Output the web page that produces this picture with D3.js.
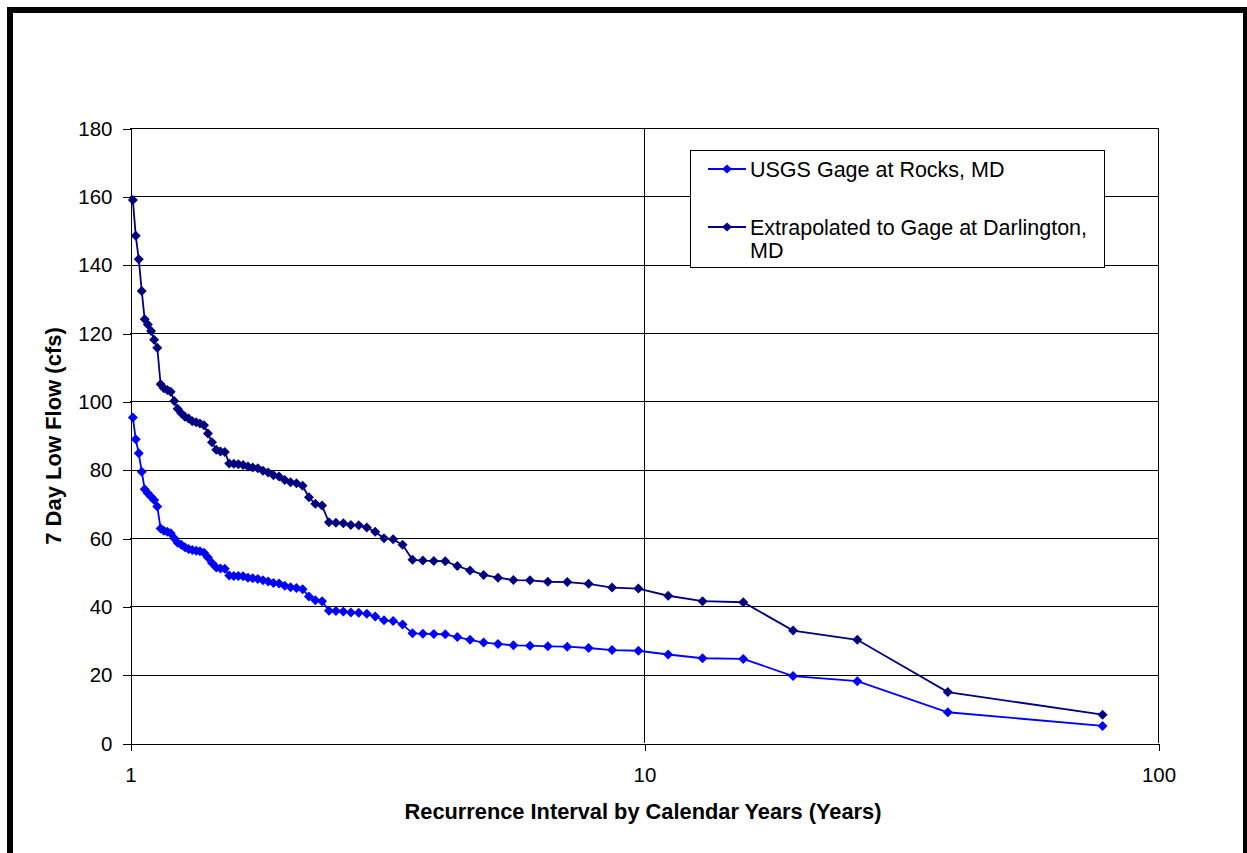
<!DOCTYPE html>
<html>
<head>
<meta charset="utf-8">
<script src="https://cdn.jsdelivr.net/npm/d3@7"></script>
<style>
  html, body { margin: 0; padding: 0; background: #fff; }
  svg { display: block; font-family: "Liberation Sans", Arial, sans-serif; }
</style>
</head>
<body>
<svg id="chart" width="1247" height="853"></svg>
<script>
// Recurrence interval (years) for each ranked 7-day low flow, smallest first
const recurrenceYears = [
  1.013, 1.026, 1.04, 1.054, 1.068, 1.083, 1.099, 1.114, 1.13, 1.147,
  1.164, 1.182, 1.2, 1.219, 1.238, 1.258, 1.279, 1.3, 1.322, 1.345,
  1.368, 1.393, 1.418, 1.444, 1.472, 1.5, 1.529, 1.56, 1.592, 1.625,
  1.66, 1.696, 1.733, 1.773, 1.814, 1.857, 1.902, 1.95, 2, 2.053,
  2.108, 2.167, 2.229, 2.294, 2.364, 2.438, 2.516, 2.6, 2.69, 2.786,
  2.889, 3, 3.12, 3.25, 3.391, 3.545, 3.714, 3.9, 4.105, 4.333,
  4.588, 4.875, 5.2, 5.571, 6, 6.5, 7.091, 7.8, 8.667, 9.75,
  11.143, 13, 15.6, 19.5, 26, 39, 78
];

// 7-day low flow (cfs), USGS gage at Rocks, MD
const rocksFlow = [
  95.3, 88.9, 84.8, 79.4, 74.3, 73.1, 72.1, 71.1, 69.2, 62.8,
  62.1, 61.8, 61.4, 59.9, 58.6, 58.0, 57.3, 56.8, 56.5, 56.3,
  56.1, 55.7, 54.3, 52.7, 51.4, 51.1, 51.0, 49.0, 48.9, 48.9,
  48.8, 48.4, 48.2, 48.0, 47.6, 47.3, 46.8, 46.7, 46.0, 45.6,
  45.4, 45.0, 42.9, 41.8, 41.5, 38.7, 38.6, 38.5, 38.2, 38.1,
  37.8, 37.0, 35.9, 35.7, 34.7, 32.1, 32.0, 31.9, 31.8, 31.0,
  30.2, 29.4, 29.0, 28.6, 28.5, 28.3, 28.2, 27.8, 27.2, 27.0,
  25.9, 24.8, 24.6, 19.6, 18.1, 9.0, 5.0
];

// 7-day low flow (cfs), extrapolated to the gage at Darlington, MD
const darlingtonFlow = [
  158.9, 148.5, 141.6, 132.3, 124.0, 122.5, 120.6, 118.0, 115.7, 105.0,
  103.8, 103.3, 102.8, 100.1, 97.8, 96.5, 95.5, 95.0, 94.2, 93.9,
  93.5, 93.0, 90.6, 88.0, 85.8, 85.3, 85.2, 81.8, 81.7, 81.6,
  81.4, 80.9, 80.6, 80.4, 79.7, 79.2, 78.4, 78.0, 77.0, 76.3,
  76.0, 75.3, 71.9, 70.0, 69.5, 64.6, 64.5, 64.3, 63.8, 63.7,
  63.1, 61.8, 59.9, 59.6, 58.0, 53.6, 53.4, 53.3, 53.2, 51.8,
  50.5, 49.2, 48.4, 47.7, 47.6, 47.2, 47.1, 46.6, 45.5, 45.2,
  43.1, 41.5, 41.2, 32.9, 30.2, 14.9, 8.3
];

const seriesNames = ["USGS Gage at Rocks, MD", "Extrapolated to Gage at Darlington,\nMD"];
const seriesColors = ["#0000ff", "#000080"];
const yTicks = [0, 20, 40, 60, 80, 100, 120, 140, 160, 180];
const xTicks = [1, 10, 100];

const svg = d3.select("#chart");

const plot = { left: 130, right: 1158, top: 128, bottom: 743 };
const x = d3.scaleLog().domain([1, 100]).range([plot.left, plot.right]);
const y = d3.scaleLinear().domain([0, 180]).range([plot.bottom, plot.top]);

// outer frame
svg.append("rect")
  .attr("x", 10).attr("y", 10)
  .attr("width", 1236).attr("height", 870)
  .attr("fill", "#fff").attr("stroke", "#000").attr("stroke-width", 6);

// gridlines
const grid = svg.append("g").attr("shape-rendering", "crispEdges");
grid.selectAll("line.h").data(yTicks.filter(d => d > 0)).join("line")
  .attr("x1", plot.left).attr("x2", plot.right)
  .attr("y1", d => Math.round(y(d)) + 0.5).attr("y2", d => Math.round(y(d)) + 0.5)
  .attr("stroke", "#000").attr("stroke-width", 1);
grid.selectAll("line.v").data(xTicks.filter(d => d > 1)).join("line")
  .attr("y1", plot.top).attr("y2", plot.bottom)
  .attr("x1", d => Math.round(x(d)) + 0.5).attr("x2", d => Math.round(x(d)) + 0.5)
  .attr("stroke", "#000").attr("stroke-width", 1);

// axes
const yAxis = svg.append("g")
  .attr("transform", `translate(${plot.left + 0.5},0.5)`)
  .attr("shape-rendering", "crispEdges")
  .call(d3.axisLeft(y).tickValues(yTicks).tickSize(8).tickPadding(10).tickSizeOuter(0));
const xAxis = svg.append("g")
  .attr("transform", `translate(0.5,${plot.bottom + 0.5})`)
  .attr("shape-rendering", "crispEdges")
  .call(d3.axisBottom(x).tickValues(xTicks).tickFormat(d3.format("d")).tickSize(7).tickPadding(17).tickSizeOuter(0));
[yAxis, xAxis].forEach(g => {
  g.selectAll("path, line").attr("stroke", "#000");
  g.selectAll("text").attr("font-size", 20.5).attr("fill", "#000")
    .attr("font-family", "'Liberation Sans', Arial, sans-serif");
});

// axis titles
svg.append("text")
  .attr("transform", "translate(61,436) rotate(-90)")
  .attr("text-anchor", "middle")
  .attr("font-size", 22).attr("font-weight", "bold")
  .text("7 Day Low Flow (cfs)");
svg.append("text")
  .attr("x", 643).attr("y", 819)
  .attr("text-anchor", "middle")
  .attr("font-size", 21.8).attr("font-weight", "bold")
  .text("Recurrence Interval by Calendar Years (Years)");

// diamond marker
const diamondPath = "M0,-5L5,0L0,5L-5,0Z";

const allSeries = [rocksFlow, darlingtonFlow];
const line = d3.line().x(d => x(d[0])).y(d => y(d[1]));

allSeries.forEach((vals, i) => {
  const pts = recurrenceYears.map((r, k) => [r, vals[k]]);
  const g = svg.append("g");
  g.append("path")
    .attr("d", line(pts))
    .attr("fill", "none")
    .attr("stroke", seriesColors[i])
    .attr("stroke-width", 1.8);
  g.selectAll("path.m").data(pts).join("path")
    .attr("transform", d => `translate(${x(d[0])},${y(d[1])})`)
    .attr("d", diamondPath)
    .attr("fill", seriesColors[i]);
});

// legend
const legend = svg.append("g");
legend.append("rect")
  .attr("x", 690.5).attr("y", 150.5).attr("width", 414).attr("height", 117)
  .attr("fill", "#fff").attr("stroke", "#000").attr("stroke-width", 1);
const entryY = [169, 227];
seriesNames.forEach((name, i) => {
  const cy = entryY[i];
  legend.append("line")
    .attr("x1", 708).attr("x2", 746).attr("y1", cy).attr("y2", cy)
    .attr("stroke", seriesColors[i]).attr("stroke-width", 1.8);
  legend.append("path")
    .attr("transform", `translate(727,${cy})`)
    .attr("d", "M0,-4.5L5,0L0,4.5L-5,0Z")
    .attr("fill", seriesColors[i]);
  const t = legend.append("text")
    .attr("x", 750).attr("y", cy + 7.5)
    .attr("font-size", 21.5).attr("fill", "#000");
  name.split("\n").forEach((part, j) => {
    t.append("tspan").attr("x", 750).attr("dy", j === 0 ? 0 : 23).text(part);
  });
});
</script>
</body>
</html>
